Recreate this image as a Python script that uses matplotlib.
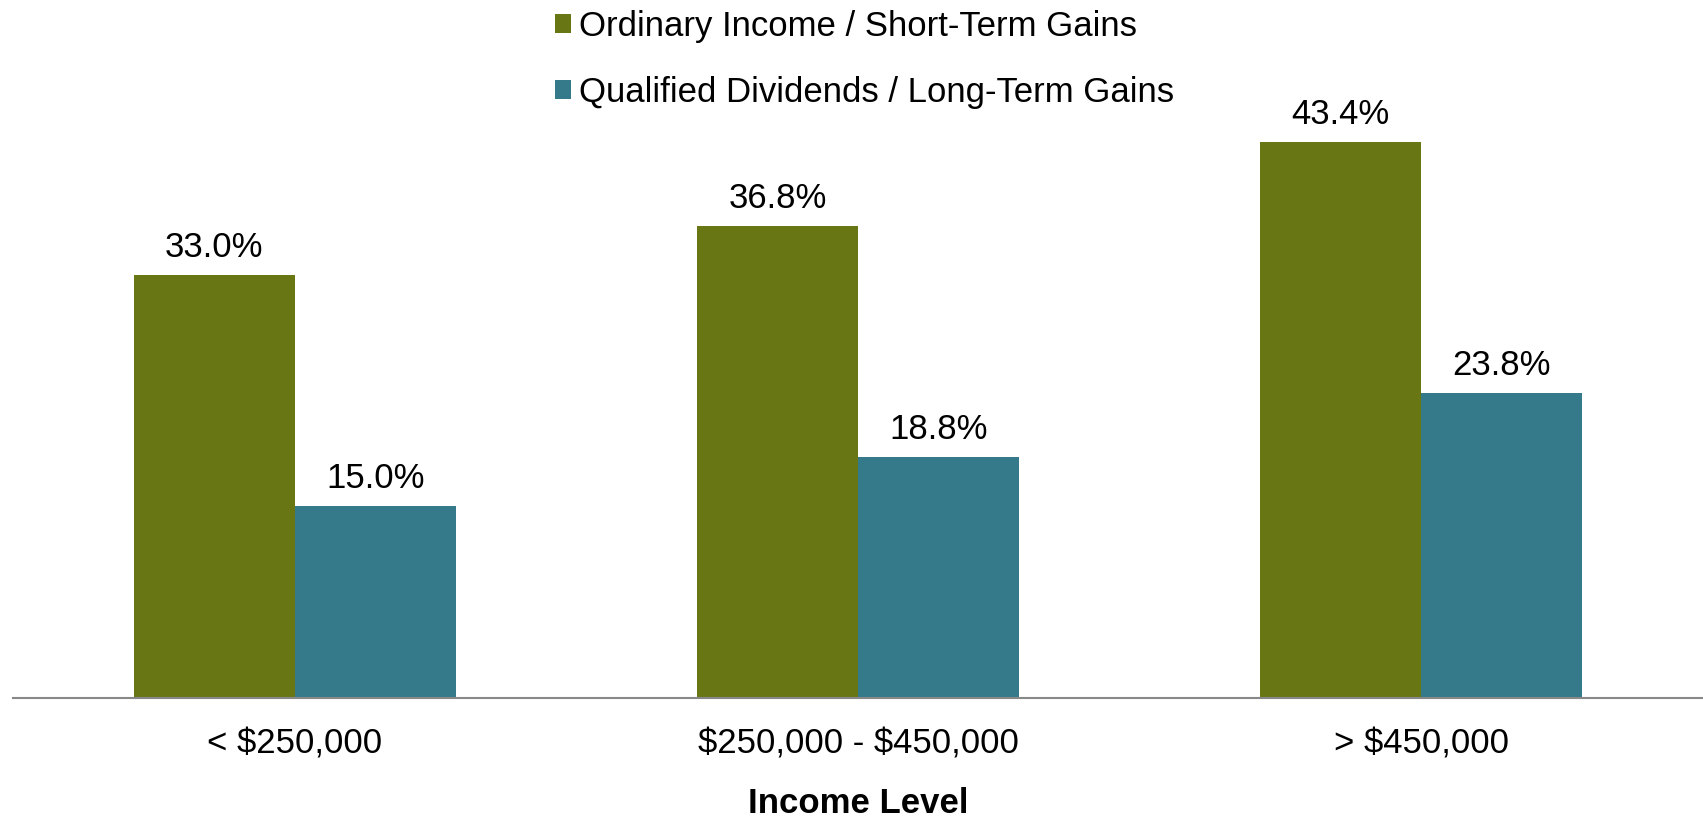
import matplotlib
matplotlib.use("Agg")
import matplotlib.pyplot as plt
import numpy as np

plt.rcParams['font.family'] = ['Liberation Sans', 'DejaVu Sans']

# données
categories = ['< \\$250,000', '\\$250,000 - \\$450,000', '> \\$450,000']
ordinary = [33.0, 36.8, 43.4]
qualified = [15.0, 18.8, 23.8]
series_names = ['Ordinary Income / Short-Term Gains', 'Qualified Dividends / Long-Term Gains']
colors = ['#687714', '#347a8a']

fig = plt.figure(figsize=(17.03, 8.17), dpi=100)
# axes: bas à 698 px, haut à 57 px, gauche 13 px
ax = fig.add_axes([13 / 1703, 1 - 698 / 817, 1 - 13 / 1703, (698 - 57) / 817])

x = np.arange(len(categories))
w = 0.286
b1 = ax.bar(x - w / 2, ordinary, w, color=colors[0], label=series_names[0])
b2 = ax.bar(x + w / 2, qualified, w, color=colors[1], label=series_names[1])

for bars, vals in [(b1, ordinary), (b2, qualified)]:
    for rect, v in zip(bars, vals):
        ax.annotate(f"{v:.1f}%", (rect.get_x() + rect.get_width() / 2, v),
                    xytext=(0, 8), textcoords='offset points',
                    ha='center', va='bottom', fontsize=25)

ax.set_xlim(-0.5, 2.5)
ax.set_ylim(0, 50)
ax.set_xticks(x)
ax.set_xticklabels(categories, fontsize=25)
ax.tick_params(axis='x', length=0, pad=21)
ax.set_yticks([])
for s in ['top', 'right', 'left']:
    ax.spines[s].set_visible(False)
ax.spines['bottom'].set_color('#888888')
ax.spines['bottom'].set_linewidth(1.5)
ax.set_xlabel('Income Level', fontsize=25, fontweight='bold', labelpad=19)

leg = fig.legend(loc='upper left', bbox_to_anchor=(555 / 1703, 1 - 10 / 817),
                 frameon=False, fontsize=25, handlelength=0.45, handleheight=0.45,
                 handletextpad=0.25, labelspacing=0.95, borderpad=0, borderaxespad=0)

fig.savefig('out.png', dpi=100)
